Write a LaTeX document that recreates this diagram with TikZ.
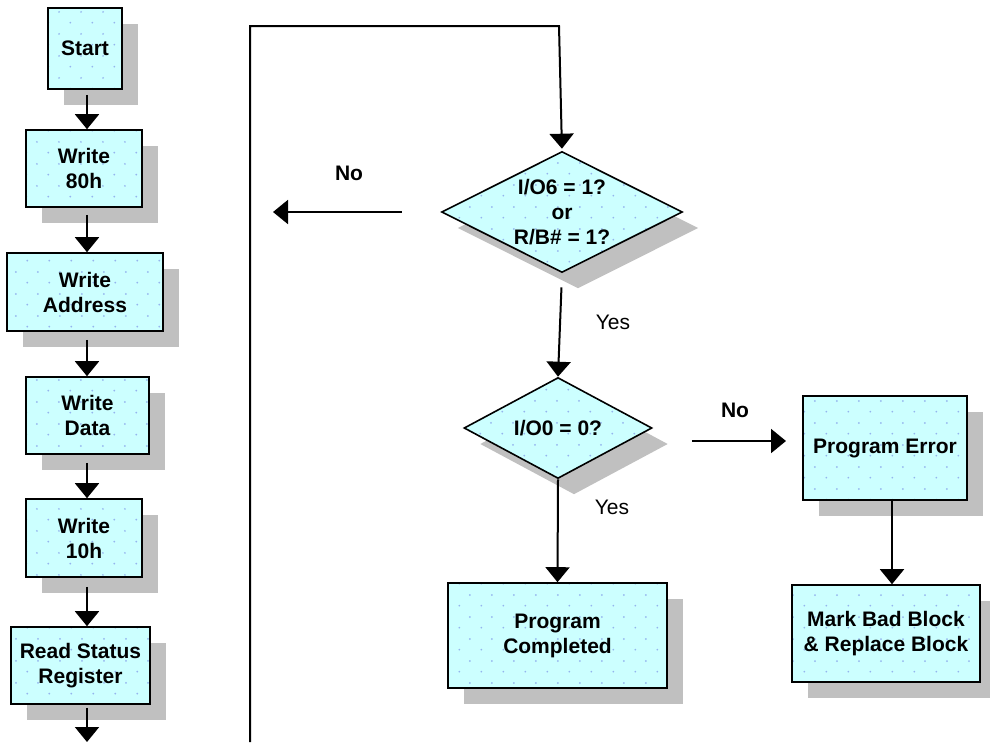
\documentclass[tikz,border=0pt]{standalone}
\usepackage{fontspec}
\setmainfont{Liberation Sans}
\usetikzlibrary{shapes.geometric,arrows.meta,shadows,patterns}
\definecolor{boxfill}{HTML}{CCFFFF}
\definecolor{shadowgray}{HTML}{C0C0C0}
\definecolor{dotblue}{HTML}{94B4EE}
\pgfdeclarepatternformonly{sparsedots}{\pgfpointorigin}{\pgfpoint{21.6pt}{21.6pt}}{\pgfpoint{21.6pt}{21.6pt}}{%
 \pgfpathcircle{\pgfpoint{5.4pt}{5.4pt}}{1pt}%
 \pgfpathcircle{\pgfpoint{16.2pt}{16.2pt}}{1pt}%
 \pgfusepath{fill}}
\begin{document}
\begin{tikzpicture}[x=1pt,y=-1pt,
  flowshape/.style={drop shadow={shadow xshift=16pt,shadow yshift=-16pt,fill=shadowgray,opacity=1},
     preaction={fill=boxfill}, pattern=sparsedots, pattern color=dotblue, draw=black, line width=1.6pt,
     inner sep=0pt, align=center, font=\fontsize{21}{25}\selectfont\bfseries},
  procbox/.style={flowshape, rectangle},
  decision/.style={flowshape, diamond, aspect=2},
  arr/.style={line width=2pt, -{Triangle[width=24pt,length=15pt]}},
  yeslbl/.style={font=\fontsize{21}{24}\selectfont},
  nolbl/.style={font=\fontsize{21}{24}\selectfont\bfseries}
]
\useasboundingbox (0,0) rectangle (990,742);

% left column
\node[procbox, minimum width=74pt, minimum height=81pt] (start) at (85,48.5) {Start};
\node[procbox, minimum width=116pt, minimum height=77pt] (w80) at (84,168.5) {Write\\80h};
\node[procbox, minimum width=156pt, minimum height=78pt] (wad) at (85,292) {Write\\Address};
\node[procbox, minimum width=123pt, minimum height=77pt] (wda) at (87.5,415.5) {Write\\Data};
\node[procbox, minimum width=116pt, minimum height=78pt] (w10) at (84,538) {Write\\10h};
\node[procbox, minimum width=139pt, minimum height=77pt] (rsr) at (80.5,665.5) {Read Status\\Register};

% right part
\node[decision, minimum width=241pt, minimum height=121pt] (d1) at (562,212) {I/O6 = 1?\\or\\R/B\# = 1?};
\node[decision, minimum width=188pt, minimum height=101pt] (d2) at (558,428) {I/O0 = 0?};
\node[procbox, minimum width=219pt, minimum height=105pt] (pc) at (557.5,635.5) {Program\\Completed};
\node[procbox, minimum width=164pt, minimum height=104pt] (pe) at (885,448) {Program Error};
\node[procbox, minimum width=188pt, minimum height=97pt] (mb) at (886,633.5) {Mark Bad Block\\\& Replace Block};

% coordinates
\coordinate (xl) at (87,0);
\coordinate (bend) at (87,742);
\coordinate (lb) at (250,742);
\coordinate (lt) at (559,26);
\coordinate (noL) at (273,212);
\coordinate (noR) at (786,441);

% left arrows
\draw[arr, shorten <=5pt] (start.south -| xl) -- (w80.north -| xl);
\draw[arr, shorten <=7pt] (w80.south -| xl) -- (wad.north -| xl);
\draw[arr, shorten <=8pt] (wad.south -| xl) -- (wda.north -| xl);
\draw[arr, shorten <=8pt] (wda.south -| xl) -- (w10.north -| xl);
\draw[arr, shorten <=9pt] (w10.south -| xl) -- (rsr.north -| xl);
\draw[arr, shorten <=3pt] (rsr.south -| xl) -- (bend);

% loop and right arrows
\draw[arr, shorten >=2pt] (lb) |- (lt) -- (d1.north);
\draw[arr, shorten <=39pt] (d1.west) -- (noL);
\draw[arr, shorten <=14pt] (d1.south) -- (d2.north);
\draw[arr] ([xshift=39pt,yshift=-13pt]d2.east) -- (noR);
\draw[arr] (d2.south) -- (pc.north);
\draw[arr] ([xshift=7pt]pe.south) -- ([xshift=6pt]mb.north);

% labels
\node[nolbl] (no1) at (349,173) {No};
\node[yeslbl] (yes1) at (613,322) {Yes};
\node[nolbl] (no2) at (735,410) {No};
\node[yeslbl] (yes2) at (612,507) {Yes};
\end{tikzpicture}
\end{document}
